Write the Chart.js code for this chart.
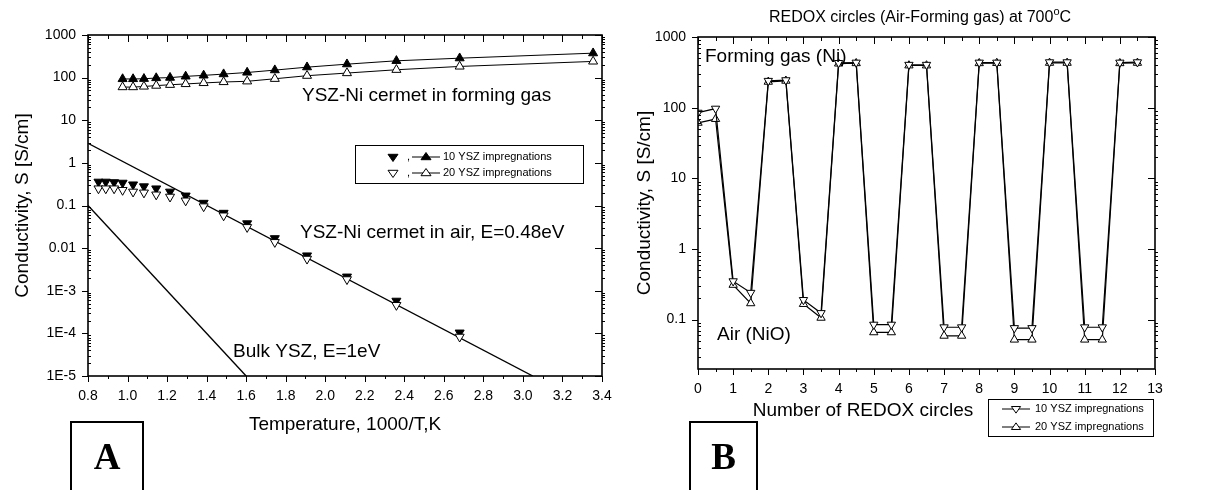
<!DOCTYPE html>
<html>
<head>
<meta charset="utf-8">
<script src="https://cdn.jsdelivr.net/npm/chart.js@4.4.0/dist/chart.umd.min.js"></script>
<style>
  html, body { margin: 0; padding: 0; background: #fff; }
  #wrap { position: relative; width: 1210px; height: 490px; overflow: hidden; }
  #chartA { position: absolute; left: 0; top: 0; }
  #chartB { position: absolute; left: 620px; top: 0; }
</style>
</head>
<body>
<div id="wrap">
  <canvas id="chartA" width="640" height="490"></canvas>
  <canvas id="chartB" width="590" height="490"></canvas>
</div>
<script>
const FONT = '"Liberation Sans", Arial, sans-serif';
const SERIF = '"Liberation Serif", "Times New Roman", serif';

// A: conductivity vs 1000/T
const tempGas = [0.975, 1.028, 1.083, 1.145, 1.215, 1.294, 1.385, 1.486, 1.605, 1.745, 1.908, 2.110, 2.360, 2.680, 3.355];
const gas10 = [93, 93, 94, 98, 100, 107, 113, 121, 132, 150, 176, 207, 248, 286, 375];
const gas20 = [60, 60, 62, 65, 68, 71, 75, 79, 82, 94, 111, 128, 153, 183, 240];

const tempAir = [0.853, 0.890, 0.932, 0.975, 1.028, 1.083, 1.145, 1.215, 1.294, 1.385, 1.486, 1.605, 1.745, 1.908, 2.110, 2.360, 2.680];
const air10 = [0.36, 0.36, 0.35, 0.34, 0.31, 0.28, 0.25, 0.21, 0.17, 0.115, 0.067, 0.038, 0.017, 0.0067, 0.00214, 0.00058, 0.000104];
const air20 = [0.25, 0.25, 0.25, 0.23, 0.21, 0.20, 0.18, 0.16, 0.13, 0.095, 0.058, 0.031, 0.0138, 0.0056, 0.00185, 0.00046, 0.000083];

// fitted lines (E=0.48eV in air, bulk YSZ E=1eV)
const fitAirT = [0.8, 3.05];
const fitAirS = [2.88, 0.00001];
const bulkT = [0.8, 1.6];
const bulkS = [0.1, 0.00001];

const xTicksA = [0.8, 1.0, 1.2, 1.4, 1.6, 1.8, 2.0, 2.2, 2.4, 2.6, 2.8, 3.0, 3.2, 3.4];
const yTicksA = [1e-5, 1e-4, 1e-3, 0.01, 0.1, 1, 10, 100, 1000];
const yLabelsA = ['1E-5', '1E-4', '1E-3', '0.01', '0.1', '1', '10', '100', '1000'];

// B: REDOX cycling at 700C
const cycles = [0, 0.5, 1, 1.5, 2, 2.5, 3, 3.5, 4, 4.5, 5, 5.5, 6, 6.5, 7, 7.5, 8, 8.5, 9, 9.5, 10, 10.5, 11, 11.5, 12, 12.5];
const redox10 = [85, 97, 0.35, 0.24, 240, 245, 0.19, 0.124, 430, 435, 0.085, 0.085, 405, 405, 0.078, 0.078, 435, 435, 0.076, 0.076, 440, 440, 0.078, 0.078, 435, 440];
const redox20 = [61, 69, 0.31, 0.17, 232, 240, 0.166, 0.106, 420, 425, 0.066, 0.066, 395, 395, 0.059, 0.059, 425, 428, 0.052, 0.052, 430, 430, 0.052, 0.052, 425, 430];

const xTicksB = [0, 1, 2, 3, 4, 5, 6, 7, 8, 9, 10, 11, 12, 13];
const yTicksB = [0.1, 1, 10, 100, 1000];
const yLabelsB = ['0.1', '1', '10', '100', '1000'];

const pts = (xs, ys) => xs.map((x, i) => ({ x, y: ys[i] }));

function logMinors(min, max) {
  const out = [];
  for (let d = Math.floor(Math.log10(min)); d < Math.ceil(Math.log10(max)); d++) {
    for (let m = 2; m <= 9; m++) {
      const v = m * Math.pow(10, d);
      if (v > min && v < max) out.push(v);
    }
  }
  return out;
}

function drawFrameTicks(ctx, a, sx, sy, xMajor, xMinor, yMajor, yMinor) {
  ctx.strokeStyle = '#000';
  ctx.lineWidth = 1;
  ctx.beginPath();
  xMajor.forEach(v => {
    const p = Math.round(sx.getPixelForValue(v)) + 0.5;
    ctx.moveTo(p, a.bottom); ctx.lineTo(p, a.bottom + 6);
    ctx.moveTo(p, a.top); ctx.lineTo(p, a.top + 7);
  });
  xMinor.forEach(v => {
    const p = Math.round(sx.getPixelForValue(v)) + 0.5;
    ctx.moveTo(p, a.bottom); ctx.lineTo(p, a.bottom + 3);
    ctx.moveTo(p, a.top); ctx.lineTo(p, a.top + 4);
  });
  yMajor.forEach(v => {
    const p = Math.round(sy.getPixelForValue(v)) + 0.5;
    ctx.moveTo(a.left - 6, p); ctx.lineTo(a.left, p);
    ctx.moveTo(a.right - 7, p); ctx.lineTo(a.right, p);
  });
  yMinor.forEach(v => {
    const p = Math.round(sy.getPixelForValue(v)) + 0.5;
    ctx.moveTo(a.left, p); ctx.lineTo(a.left + 3, p);
    ctx.moveTo(a.right, p); ctx.lineTo(a.right + 3, p);
  });
  ctx.stroke();
  ctx.lineWidth = 1.6;
  ctx.strokeRect(a.left, a.top, a.right - a.left, a.bottom - a.top);
}

function tri(ctx, x, y, r, down, filled) {
  const h = r * 0.9;
  ctx.beginPath();
  if (down) {
    ctx.moveTo(x - r, y - h * 0.6); ctx.lineTo(x + r, y - h * 0.6); ctx.lineTo(x, y + h);
  } else {
    ctx.moveTo(x - r, y + h * 0.6); ctx.lineTo(x + r, y + h * 0.6); ctx.lineTo(x, y - h);
  }
  ctx.closePath();
  ctx.fillStyle = filled ? '#000' : '#fff';
  ctx.fill();
  ctx.lineWidth = 1;
  ctx.strokeStyle = '#000';
  ctx.stroke();
}

function seg(ctx, x1, x2, y) {
  ctx.beginPath(); ctx.moveTo(x1, y); ctx.lineTo(x2, y); ctx.lineWidth = 1; ctx.stroke();
}

function yTitle(ctx, text, x, y) {
  ctx.save();
  ctx.translate(x, y);
  ctx.rotate(-Math.PI / 2);
  ctx.textAlign = 'center';
  ctx.textBaseline = 'middle';
  ctx.fillText(text, 0, 0);
  ctx.restore();
}

function letterBox(ctx, x, y, w, h, letter) {
  ctx.lineWidth = 2;
  ctx.strokeStyle = '#000';
  ctx.strokeRect(x, y, w, h);
  ctx.font = 'bold 37px ' + SERIF;
  ctx.textAlign = 'center';
  ctx.textBaseline = 'alphabetic';
  ctx.fillStyle = '#000';
  ctx.fillText(letter, x + w / 2, y + 47);
}

const decorA = {
  id: 'decorA',
  afterDraw(chart) {
    const { ctx, chartArea: a, scales: { x, y } } = chart;
    const xMinor = [];
    for (let v = 0.9; v < 3.4; v += 0.2) xMinor.push(v);
    ctx.save();
    drawFrameTicks(ctx, a, x, y, xTicksA, xMinor, yTicksA, logMinors(1e-5, 1000));

    ctx.fillStyle = '#000';
    ctx.font = '19px ' + FONT;
    yTitle(ctx, 'Conductivity, S [S/cm]', 23, (a.top + a.bottom) / 2);
    ctx.textAlign = 'center';
    ctx.textBaseline = 'middle';
    ctx.fillText('Temperature, 1000/T,K', (a.left + a.right) / 2, 425);

    ctx.textAlign = 'left';
    ctx.fillText('YSZ-Ni cermet in forming gas', 302, 96);
    ctx.fillText('YSZ-Ni cermet in air, E=0.48eV', 300, 233);
    ctx.fillText('Bulk YSZ, E=1eV', 233, 352);

    // legend
    ctx.lineWidth = 1;
    ctx.strokeStyle = '#000';
    ctx.strokeRect(355.5, 145.5, 228, 38);
    ctx.font = '11px ' + FONT;
    ctx.textBaseline = 'middle';
    [[157, true], [173, false]].forEach(([ly, filled]) => {
      tri(ctx, 393, ly, 5, true, filled);
      ctx.fillStyle = '#000';
      ctx.fillText(',', 407, ly);
      seg(ctx, 412, 440, ly);
      tri(ctx, 426, ly, 5, false, filled);
      ctx.fillStyle = '#000';
      ctx.fillText(filled ? '10 YSZ impregnations' : '20 YSZ impregnations', 443, ly);
    });

    letterBox(ctx, 71, 422, 72, 80, 'A');
    ctx.restore();
  }
};

const decorB = {
  id: 'decorB',
  afterDraw(chart) {
    const { ctx, chartArea: a, scales: { x, y } } = chart;
    const xMinor = [];
    for (let v = 0.5; v < 13; v += 1) xMinor.push(v);
    ctx.save();
    drawFrameTicks(ctx, a, x, y, xTicksB, xMinor, yTicksB, logMinors(0.02, 1000));

    ctx.fillStyle = '#000';
    ctx.font = '19px ' + FONT;
    yTitle(ctx, 'Conductivity, S [S/cm]', 25, (a.top + a.bottom) / 2);
    ctx.textAlign = 'center';
    ctx.textBaseline = 'middle';
    ctx.fillText('Number of REDOX circles', 243, 411);

    // title with degree sign as superscript o
    ctx.font = '16px ' + FONT;
    const t1 = 'REDOX circles (Air-Forming gas) at 700';
    const w1 = ctx.measureText(t1).width;
    ctx.font = '11px ' + FONT;
    const wo = ctx.measureText('o').width;
    ctx.font = '16px ' + FONT;
    const wc = ctx.measureText('C').width;
    const tx = 300 - (w1 + wo + wc) / 2;
    ctx.textAlign = 'left';
    ctx.fillText(t1, tx, 18);
    ctx.font = '11px ' + FONT;
    ctx.fillText('o', tx + w1, 12);
    ctx.font = '16px ' + FONT;
    ctx.fillText('C', tx + w1 + wo, 18);

    ctx.font = '19px ' + FONT;
    ctx.fillText('Forming gas (Ni)', 85, 57);
    ctx.fillText('Air (NiO)', 97, 335);

    // legend
    ctx.lineWidth = 1;
    ctx.strokeRect(368.5, 399.5, 165, 37);
    ctx.font = '11px ' + FONT;
    [[409, true], [427, false]].forEach(([ly, down]) => {
      seg(ctx, 382, 410, ly);
      tri(ctx, 396, ly, 4.6, down, false);
      ctx.fillStyle = '#000';
      ctx.fillText(down ? '10 YSZ impregnations' : '20 YSZ impregnations', 415, ly);
    });

    letterBox(ctx, 70, 422, 67, 80, 'B');
    ctx.restore();
  }
};

const tickFont = { family: FONT, size: 14 };

function logAxis(min, max, ticks, labels, width) {
  return {
    type: 'logarithmic', min, max,
    afterBuildTicks: s => { s.ticks = ticks.map(v => ({ value: v })); },
    afterFit: s => { s.width = width; s.paddingTop = 0; s.paddingBottom = 0; },
    grid: { display: false, drawTicks: false },
    border: { display: false },
    ticks: { callback: (v, i) => labels[i], font: tickFont, color: '#000', padding: 12, autoSkip: false }
  };
}

function linAxis(min, max, ticks, fmt, height) {
  return {
    type: 'linear', min, max,
    afterBuildTicks: s => { s.ticks = ticks.map(v => ({ value: v })); },
    afterFit: s => { s.height = height; s.paddingLeft = 0; s.paddingRight = 0; },
    grid: { display: false, drawTicks: false },
    border: { display: false },
    ticks: { callback: fmt, font: tickFont, color: '#000', padding: 12, maxRotation: 0, autoSkip: false }
  };
}

const baseOpts = {
  responsive: false,
  animation: false,
  devicePixelRatio: 1,
  events: [],
  plugins: { legend: { display: false }, tooltip: { enabled: false } }
};

new Chart(document.getElementById('chartA'), {
  type: 'scatter',
  data: {
    datasets: [
      { data: pts(tempAir, air20), pointStyle: 'triangle', rotation: 180, pointRadius: 5.2,
        pointBackgroundColor: '#fff', pointBorderColor: '#000', pointBorderWidth: 1, order: 1 },
      { data: pts(tempAir, air10), pointStyle: 'triangle', rotation: 180, pointRadius: 5.2,
        pointBackgroundColor: '#000', pointBorderColor: '#000', pointBorderWidth: 1, order: 2 },
      { data: pts(tempGas, gas20), showLine: true, borderColor: '#000', borderWidth: 1,
        pointStyle: 'triangle', pointRadius: 5.2, pointBackgroundColor: '#fff', pointBorderColor: '#000', pointBorderWidth: 1, order: 3 },
      { data: pts(tempGas, gas10), showLine: true, borderColor: '#000', borderWidth: 1,
        pointStyle: 'triangle', pointRadius: 5.2, pointBackgroundColor: '#000', pointBorderColor: '#000', pointBorderWidth: 1, order: 4 },
      { data: pts(fitAirT, fitAirS), showLine: true, borderColor: '#000', borderWidth: 1.4, pointRadius: 0, order: 5 },
      { data: pts(bulkT, bulkS), showLine: true, borderColor: '#000', borderWidth: 1.4, pointRadius: 0, order: 6 }
    ]
  },
  options: Object.assign({}, baseOpts, {
    layout: { padding: { left: 0, right: 38, top: 35, bottom: 0 } },
    scales: {
      x: linAxis(0.8, 3.4, xTicksA, v => v.toFixed(1), 490 - 376),
      y: logAxis(1e-5, 1000, yTicksA, yLabelsA, 88)
    }
  }),
  plugins: [decorA]
});

new Chart(document.getElementById('chartB'), {
  type: 'scatter',
  data: {
    datasets: [
      { data: pts(cycles, redox10), showLine: true, borderColor: '#000', borderWidth: 1.2,
        pointStyle: 'triangle', rotation: 180, pointRadius: 4.8, pointBackgroundColor: '#fff', pointBorderColor: '#000', pointBorderWidth: 1, order: 1 },
      { data: pts(cycles, redox20), showLine: true, borderColor: '#000', borderWidth: 1.2,
        pointStyle: 'triangle', pointRadius: 4.8, pointBackgroundColor: '#fff', pointBorderColor: '#000', pointBorderWidth: 1, order: 2 }
    ]
  },
  options: Object.assign({}, baseOpts, {
    layout: { padding: { left: 0, right: 55, top: 37, bottom: 0 } },
    scales: {
      x: linAxis(0, 13, xTicksB, v => String(v), 490 - 369),
      y: logAxis(0.02, 1000, yTicksB, yLabelsB, 78)
    }
  }),
  plugins: [decorB]
});
</script>
</body>
</html>
